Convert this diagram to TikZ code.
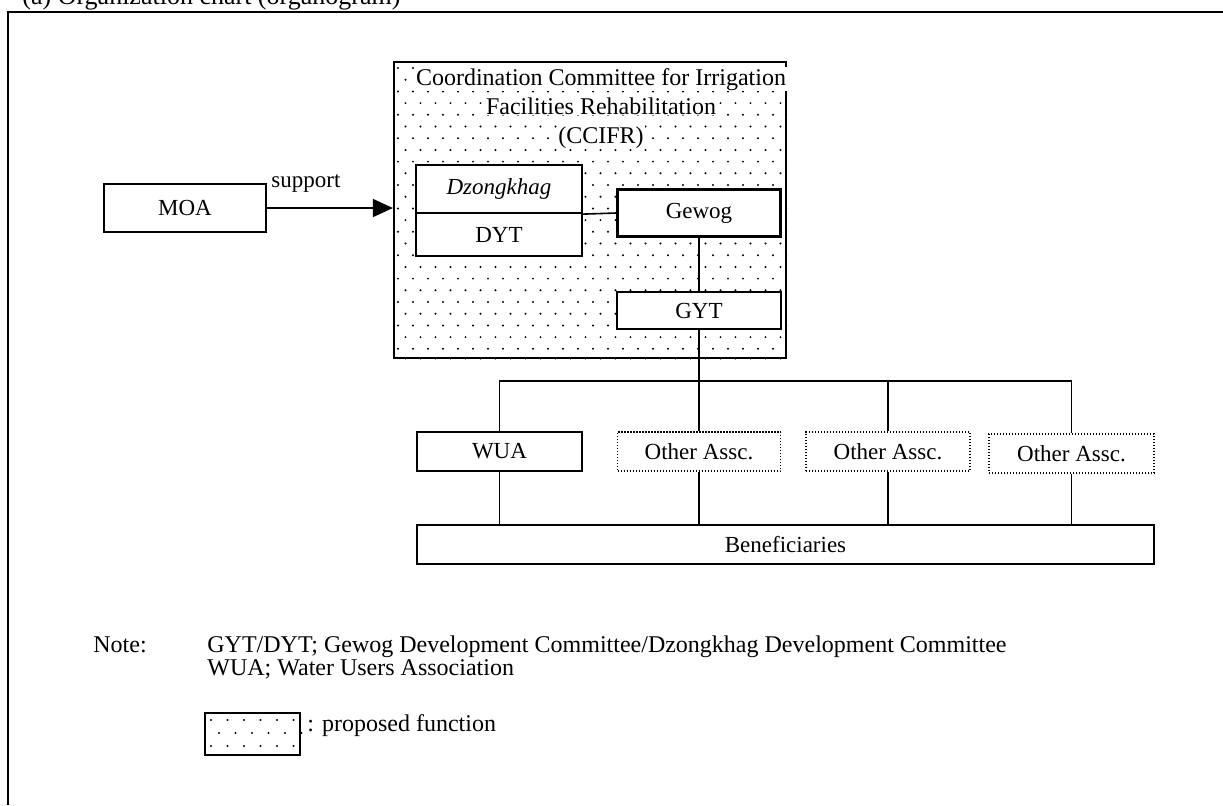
\documentclass[tikz,border=0pt]{standalone}
\usepackage{fontspec}
\setmainfont{Liberation Serif}
\usetikzlibrary{arrows.meta}
\begin{document}
\begin{tikzpicture}[x=0.5pt,y=-0.5pt,
  box/.style={draw,line width=1.1pt,fill=white,inner sep=0pt,font=\fontsize{11.5}{13}\selectfont},
  dbox/.style={draw,line width=0.6pt,dash pattern=on 0.7pt off 0.8pt,fill=white,inner sep=0pt,font=\fontsize{11.5}{13}\selectfont},
  conn/.style={line width=0.8pt},
  lbl/.style={inner sep=0pt,font=\fontsize{11.5}{13}\selectfont},
  notelbl/.style={inner sep=0pt,font=\fontsize{12}{14}\selectfont},
  cctxt/.style={inner sep=0.6pt,fill=white,font=\fontsize{12}{14}\selectfont}]
\useasboundingbox (0,0) rectangle (1223,805);
% title (partly cut at the top) and open frame
\node[anchor=base west,inner sep=0pt,font=\fontsize{13}{15}\selectfont] (title) at (22,4) {(a) Organization chart (organogram)};
\draw[line width=1pt] (1223,12) -- (8,12) -- (8,805);
% CCIFR box with dot pattern
\node[draw,line width=1.1pt,minimum width=196pt,minimum height=148pt,inner sep=0pt] (cc) at (590,210) {};
\begin{scope}
\clip (cc.south west) rectangle (cc.north east);
\foreach \r in {0,...,25}{\foreach \c in {0,...,26}{
  \fill ({398+15*\c+7.5*mod(\r,2)},{68+11.7*\r}) circle[radius=0.55pt];}}
\end{scope}
\node[cctxt,anchor=base] (cc1) at (601,85) {Coordination Committee for Irrigation};
\node[cctxt,anchor=base] (cc2) at (601,114) {Facilities Rehabilitation};
\node[cctxt,anchor=base] (cc3) at (601,143) {(CCIFR)};
% inner boxes
\node[box,minimum width=83pt,minimum height=24pt] (dz) at (499,189) {\textit{Dzongkhag}};
\node[box,minimum width=83pt,minimum height=21.5pt] (dyt) at (499,234.5) {DYT};
\node[box,minimum width=81.5pt,minimum height=23.5pt] (gewog) at (699,213) {Gewog};
\node[box,minimum width=82pt,minimum height=18.5pt] (gyt) at (699,310.5) {GYT};
% MOA
\node[box,minimum width=81pt,minimum height=24pt] (moa) at (185,208) {MOA};
\node[lbl,anchor=base west] (sup) at (271,187) {support};
\draw[conn,-{Triangle[length=10pt,width=9pt]}] (moa.east) -- (cc.west |- moa.east);
% connections inside CCIFR
\draw[conn] (dz.south east) -- (gewog.west);
\draw[conn] (gewog.south) -- (gyt.north);
% associations
\node[box,minimum width=82.5pt,minimum height=19.5pt] (wua) at (499.5,451.5) {WUA};
\node[dbox,minimum width=81.5pt,minimum height=19.5pt] (o1) at (699,451.5) {Other Assc.};
\node[dbox,minimum width=82pt,minimum height=19.5pt] (o2) at (888,451.5) {Other Assc.};
\node[dbox,minimum width=82.5pt,minimum height=19.5pt] (o3) at (1071.5,453.5) {Other Assc.};
\node[box,minimum width=368.5pt,minimum height=19.5pt] (ben) at (785.5,544.5) {Beneficiaries};
\coordinate (bus) at (699,381);
\draw[conn] (gyt.south) -- (bus);
\draw[conn] (wua.north) |- (bus) -| (o3.north);
\draw[conn] (o1.north) -- (o1.north |- bus);
\draw[conn] (o2.north) -- (o2.north |- bus);
\draw[conn] (wua.south) -- (wua.south |- ben.north);
\draw[conn] (o1.south) -- (o1.south |- ben.north);
\draw[conn] (o2.south) -- (o2.south |- ben.north);
\draw[conn] (o3.south) -- (o3.south |- ben.north);
% notes
\node[notelbl,anchor=base west] (note) at (93,652) {Note:};
\node[notelbl,anchor=base west] (n1) at (207,652) {GYT/DYT; Gewog Development Committee/Dzongkhag Development Committee};
\node[notelbl,anchor=base west] (n2) at (207,675) {WUA; Water Users Association};
\node[draw,line width=1pt,minimum width=47.5pt,minimum height=21pt,inner sep=0pt] (leg) at (252.5,734) {};
\foreach \r in {0,1,2}{\foreach \c in {0,...,5}{
  \fill ({211+16.5*\c+8*mod(\r,2)},{720+13*\r}) circle[radius=0.55pt];}}
\node[notelbl,anchor=base west] (legt) at (307,731) {: proposed function};
\end{tikzpicture}
\end{document}
